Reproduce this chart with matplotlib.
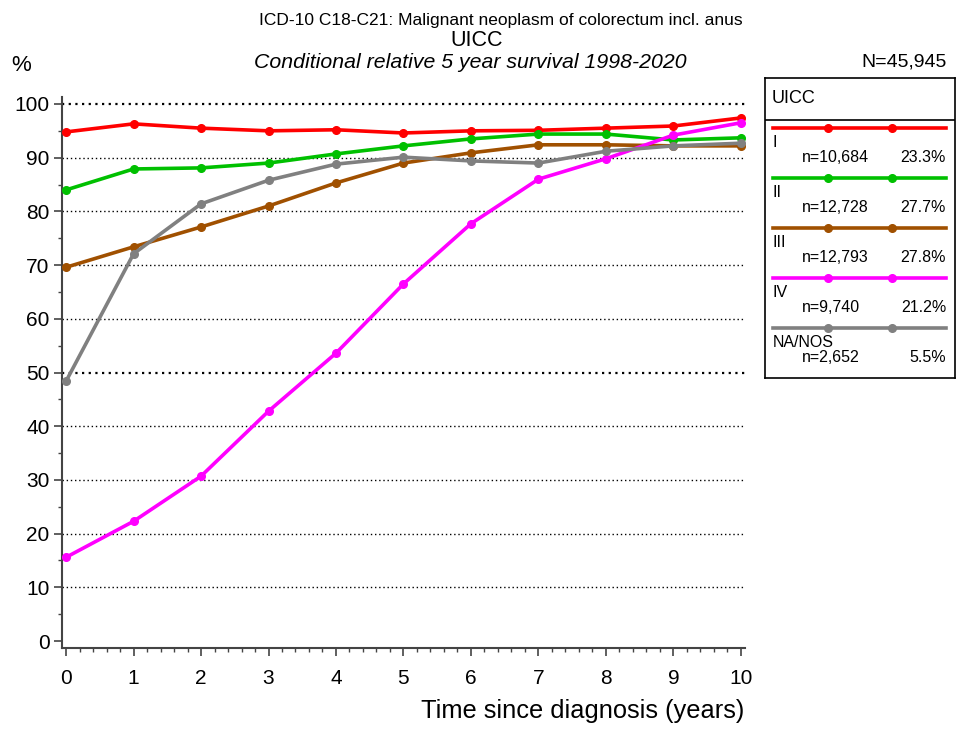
import matplotlib.pyplot as plt
from matplotlib.ticker import MultipleLocator
import numpy as np

plt.rcParams['font.family'] = ['Liberation Sans', 'DejaVu Sans']

years = [0, 1, 2, 3, 4, 5, 6, 7, 8, 9, 10]
stage_names = ["I", "II", "III", "IV", "NA/NOS"]
stage_n = ["n=10,684", "n=12,728", "n=12,793", "n=9,740", "n=2,652"]
stage_pct = ["23.3%", "27.7%", "27.8%", "21.2%", "5.5%"]
colors = ["#ff0000", "#00c000", "#a05000", "#ff00ff", "#808080"]

surv_I = [94.8, 96.3, 95.5, 95.0, 95.2, 94.6, 95.0, 95.1, 95.5, 95.9, 97.4]
surv_II = [84.0, 87.9, 88.1, 89.0, 90.7, 92.2, 93.5, 94.4, 94.4, 93.3, 93.7]
surv_III = [69.6, 73.4, 77.1, 81.0, 85.3, 89.0, 90.9, 92.4, 92.4, 92.2, 92.2]
surv_IV = [15.6, 22.3, 30.7, 42.8, 53.6, 66.5, 77.7, 86.0, 89.8, 94.2, 96.5]
surv_NA = [48.4, 72.1, 81.4, 85.8, 88.8, 90.1, 89.4, 89.0, 91.2, 92.2, 92.7]
series = [surv_I, surv_II, surv_III, surv_IV, surv_NA]

fig = plt.figure(figsize=(9.59, 7.31), dpi=100)
ax = fig.add_axes([0.0647, 0.1135, 0.712, 0.7538])

for y in range(10, 101, 10):
    lw = 1.6 if y in (50, 100) else 1.0
    ax.axhline(y, color="black", linestyle=(0, (1, 2)), linewidth=lw, zorder=1)

for vals, c in zip(series, colors):
    ax.plot(years, vals, color=c, linewidth=2.6, marker="o", markersize=5.5, zorder=3)

ax.set_xlim(-0.06, 10.06)
ax.set_ylim(-1.3, 101.3)
ax.xaxis.set_major_locator(MultipleLocator(1))
ax.xaxis.set_minor_locator(MultipleLocator(0.2))
ax.yaxis.set_major_locator(MultipleLocator(10))
ax.yaxis.set_minor_locator(MultipleLocator(5))
for s in ["top", "right"]:
    ax.spines[s].set_visible(False)
for s in ["left", "bottom"]:
    ax.spines[s].set_color("#444444")
    ax.spines[s].set_linewidth(1.5)
ax.tick_params(which="major", length=6, width=1.2, colors="#444444", labelcolor="black", labelsize=15, pad=3)
ax.tick_params(which="minor", length=3, width=1.0, colors="#444444")
ax.tick_params(axis="x", pad=9)
ax.set_xlabel("Time since diagnosis (years)", fontsize=18.3, loc="right", labelpad=8)

fig.text(0.522, 0.972, "ICD-10 C18-C21: Malignant neoplasm of colorectum incl. anus", ha="center", va="center", fontsize=12.5)
fig.text(0.497, 0.945, "UICC", ha="center", va="center", fontsize=15.5)
fig.text(0.49, 0.915, "Conditional relative 5 year survival 1998-2020", ha="center", va="center", fontsize=15.3, style="italic")
fig.text(0.012, 0.911, "%", ha="left", va="center", fontsize=16)
fig.text(0.987, 0.915, "N=45,945", ha="right", va="center", fontsize=14)

# legend box drawn in its own axes (pixel coords)
lax = fig.add_axes([765 / 959, 1 - 378 / 731, 190 / 959, 300 / 731])
lax.set_xlim(765, 955)
lax.set_ylim(378, 78)
lax.set_xticks([])
lax.set_yticks([])
for s in lax.spines.values():
    s.set_linewidth(1.2)
lax.axhline(120, color="black", linewidth=1.2)
lax.text(772, 99, "UICC", ha="left", va="center", fontsize=13)
for i, (name, n, pct, c) in enumerate(zip(stage_names, stage_n, stage_pct, colors)):
    y0 = 128 + i * 50
    lax.plot([773, 946], [y0, y0], color=c, linewidth=2.6)
    lax.plot([828, 892], [y0, y0], color=c, linestyle="none", marker="o", markersize=5.5)
    lax.text(773, y0 + 15, name, ha="left", va="center", fontsize=11.5)
    lax.text(802, y0 + 30, n, ha="left", va="center", fontsize=11.5)
    lax.text(946, y0 + 30, pct, ha="right", va="center", fontsize=11.5)

fig.savefig("out.png", dpi=100)
